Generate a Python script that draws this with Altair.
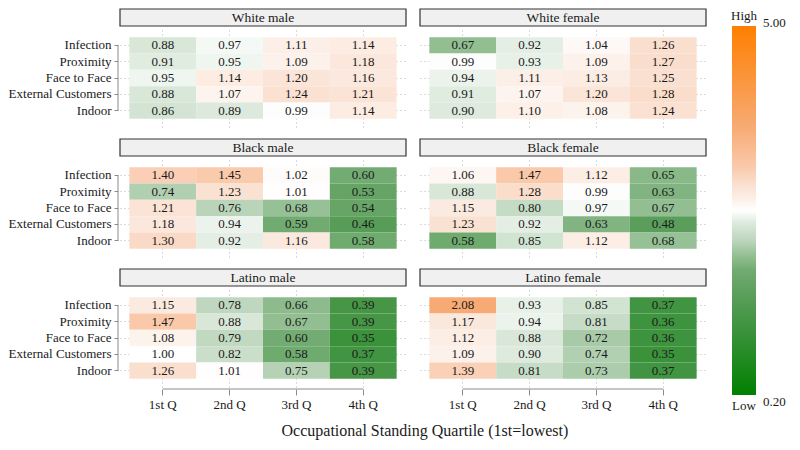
import math
import altair as alt
import pandas as pd

measures = ["Infection", "Proximity", "Face to Face", "External Customers", "Indoor"]
quartiles = ["1st Q", "2nd Q", "3rd Q", "4th Q"]
groups = ["White male", "White female", "Black male", "Black female", "Latino male", "Latino female"]

# rows = measures, columns = quartiles
white_male = [
    [0.88, 0.97, 1.11, 1.14],
    [0.91, 0.95, 1.09, 1.18],
    [0.95, 1.14, 1.20, 1.16],
    [0.88, 1.07, 1.24, 1.21],
    [0.86, 0.89, 0.99, 1.14],
]
white_female = [
    [0.67, 0.92, 1.04, 1.26],
    [0.99, 0.93, 1.09, 1.27],
    [0.94, 1.11, 1.13, 1.25],
    [0.91, 1.07, 1.20, 1.28],
    [0.90, 1.10, 1.08, 1.24],
]
black_male = [
    [1.40, 1.45, 1.02, 0.60],
    [0.74, 1.23, 1.01, 0.53],
    [1.21, 0.76, 0.68, 0.54],
    [1.18, 0.94, 0.59, 0.46],
    [1.30, 0.92, 1.16, 0.58],
]
black_female = [
    [1.06, 1.47, 1.12, 0.65],
    [0.88, 1.28, 0.99, 0.63],
    [1.15, 0.80, 0.97, 0.67],
    [1.23, 0.92, 0.63, 0.48],
    [0.58, 0.85, 1.12, 0.68],
]
latino_male = [
    [1.15, 0.78, 0.66, 0.39],
    [1.47, 0.88, 0.67, 0.39],
    [1.08, 0.79, 0.60, 0.35],
    [1.00, 0.82, 0.58, 0.37],
    [1.26, 1.01, 0.75, 0.39],
]
latino_female = [
    [2.08, 0.93, 0.85, 0.37],
    [1.17, 0.94, 0.81, 0.36],
    [1.12, 0.88, 0.72, 0.36],
    [1.09, 0.90, 0.74, 0.35],
    [1.39, 0.81, 0.73, 0.37],
]

legend_limits = [0.2, 5.0]
legend_ends = ["Low", "High"]
axis_title = "Occupational Standing Quartile (1st=lowest)"

# colour stops (log scale, white at 1)
color_domain = [0.2, 0.37, 0.5, 0.6, 0.68, 0.76, 0.9, 1.0, 1.1, 1.27, 1.45, 2.08, 5.0]
color_range = ["#008000", "#419441", "#5FA05F", "#73AC73", "#96C096", "#B9D4B9", "#DEEADE",
               "#FFFFFF", "#FCF0E9", "#FADECD", "#FACAAC", "#F7AA73", "#FF7F00"]

mats = [white_male, white_female, black_male, black_female, latino_male, latino_female]
recs = []
for g, mat in zip(groups, mats):
    for m, vals in zip(measures, mat):
        for q, v in zip(quartiles, vals):
            recs.append({"group": g, "measure": m, "quartile": q, "value": v})
df = pd.DataFrame(recs)

FONT = "Liberation Serif"
PW, PH, SH = 286, 98, 17
TXT = "#1a1a1a"
AX = "#8c8c8c"
GRID = "#b5b5b5"

color_scale = alt.Scale(type="log", domain=color_domain, range=color_range, interpolate="rgb")


def panel(g, left, bottom):
    base = alt.Chart(df).transform_filter(alt.datum.group == g)
    if left:
        yaxis = alt.Axis(title=None, domain=False, ticks=True, tickSize=4, tickColor=AX, tickWidth=1,
                         labelFont=FONT, labelFontSize=13, labelColor=TXT, labelPadding=3, offset=2,
                         grid=True, gridColor=GRID, gridDash=[1, 3], zindex=0)
    else:
        yaxis = alt.Axis(title=None, domain=False, ticks=False, labels=False,
                         grid=True, gridColor=GRID, gridDash=[1, 3], zindex=0)
    if bottom:
        xaxis = alt.Axis(title=None, domain=False, ticks=True, tickSize=6, tickColor=AX, tickWidth=1,
                         labelFont=FONT, labelFontSize=13, labelColor=TXT, labelPadding=3, labelAngle=0,
                         offset=2, grid=True, gridColor=GRID, gridDash=[1, 3], zindex=0)
    else:
        xaxis = alt.Axis(title=None, domain=False, ticks=False, labels=False,
                         grid=True, gridColor=GRID, gridDash=[1, 3], zindex=0)
    enc = base.encode(
        x=alt.X("quartile:N", sort=quartiles, axis=xaxis,
                scale=alt.Scale(paddingInner=0, paddingOuter=0.14)),
        y=alt.Y("measure:N", sort=measures, axis=yaxis,
                scale=alt.Scale(paddingInner=0, paddingOuter=0.5)),
    )
    rect = enc.mark_rect().encode(color=alt.Color("value:Q", scale=color_scale, legend=None))
    text = enc.mark_text(font=FONT, fontSize=13, color=TXT).encode(
        text=alt.Text("value:Q", format=".2f"))
    layers = [rect, text]
    if left:
        layers.append(
            enc.transform_filter(alt.datum.quartile == quartiles[0])
            .mark_line(color=AX, strokeWidth=1)
            .encode(x=alt.value(-2))
        )
    if bottom:
        layers.append(
            enc.transform_filter(alt.datum.measure == measures[0])
            .mark_line(color=AX, strokeWidth=1)
            .encode(y=alt.value(PH + 2))
        )
    return alt.layer(*layers).properties(width=PW, height=PH)


def strip(g):
    d = pd.DataFrame({"group": [g]})
    box = alt.Chart(d).mark_rect(fill="#F0F0F0", stroke="#333333", strokeWidth=1.2)
    lab = alt.Chart(d).mark_text(font=FONT, fontSize=13.5, color=TXT).encode(text="group:N")
    return alt.layer(box, lab).properties(width=PW, height=SH)


rows = []
for r in range(3):
    gl, gr = groups[2 * r], groups[2 * r + 1]
    bottom = r == 2
    colL = alt.vconcat(strip(gl), panel(gl, True, bottom), spacing=2)
    colR = alt.vconcat(strip(gr), panel(gr, False, bottom), spacing=2)
    rows.append(alt.hconcat(colL, colR, spacing=12))
grid = alt.vconcat(*rows, spacing=11)

# legend
LH = 386
lo_df = pd.DataFrame({"lo": [legend_limits[0]], "hi": [legend_limits[1]],
                      "low_lab": [legend_ends[0]], "high_lab": [legend_ends[1]]})
lscale = alt.Scale(type="log", domain=legend_limits, range=[LH, 17])
stops = [alt.GradientStop(color=c, offset=math.log(v / legend_limits[0]) / math.log(legend_limits[1] / legend_limits[0]))
         for v, c in zip(color_domain, color_range)]
grad = alt.LinearGradient(gradient="linear", stops=stops, x1=0, x2=0, y1=1, y2=0)
lbase = alt.Chart(lo_df)
bar = lbase.mark_rect(fill=grad).encode(
    y=alt.Y("lo:Q", scale=lscale, axis=None), y2="hi:Q")
t_high = lbase.mark_text(font=FONT, fontSize=13, color=TXT, dy=-10).encode(
    y=alt.Y("hi:Q", scale=lscale, axis=None), x=alt.value(12), text="high_lab:N")
t_low = lbase.mark_text(font=FONT, fontSize=13, color=TXT, dy=11).encode(
    y=alt.Y("lo:Q", scale=lscale, axis=None), x=alt.value(12), text="low_lab:N")
t_hv = lbase.mark_text(font=FONT, fontSize=13, color=TXT, dy=-3, align="left").encode(
    y=alt.Y("hi:Q", scale=lscale, axis=None), x=alt.value(31), text=alt.Text("hi:Q", format=".2f"))
t_lv = lbase.mark_text(font=FONT, fontSize=13, color=TXT, dy=7, align="left").encode(
    y=alt.Y("lo:Q", scale=lscale, axis=None), x=alt.value(31), text=alt.Text("lo:Q", format=".2f"))
legend = alt.layer(bar, t_high, t_low, t_hv, t_lv).properties(width=24, height=LH)

chart = alt.hconcat(grid, legend, spacing=24).properties(
    padding={"left": 0, "top": 0, "right": 2, "bottom": 2},
    title=alt.TitleParams(axis_title, orient="bottom", anchor="middle", font=FONT, fontSize=16,
                          fontWeight="normal", color=TXT, offset=10, dx=28),
).configure_view(stroke=None)

chart.save("out.html", embed_options={"renderer": "svg", "actions": False})
